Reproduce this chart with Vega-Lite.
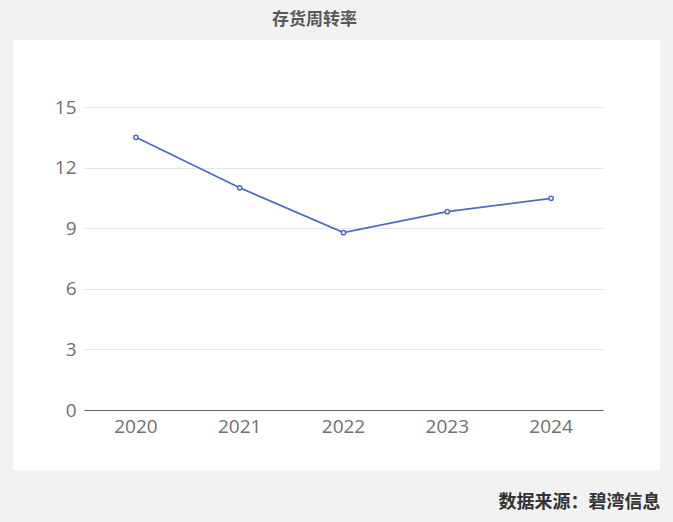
{
  "$schema": "https://vega.github.io/schema/vega-lite/v6.json",
  "autosize": "none",
  "width": 647,
  "height": 430,
  "padding": {"left": 13, "top": 40, "right": 13, "bottom": 52},
  "background": "#f2f2f2",
  "view": {"fill": "#ffffff", "stroke": null},
  "title": {
    "text": "存货周转率",
    "font": "Noto Sans CJK SC",
    "fontSize": 17,
    "fontWeight": "bold",
    "color": "#595959",
    "anchor": "middle",
    "dx": -22,
    "offset": 11
  },
  "data": {
    "values": [
      {"year": "2020", "value": 13.5},
      {"year": "2021", "value": 11.0},
      {"year": "2022", "value": 8.78},
      {"year": "2023", "value": 9.82},
      {"year": "2024", "value": 10.48}
    ]
  },
  "mark": {
    "type": "line",
    "color": "#4f6bc2",
    "strokeWidth": 1.8,
    "point": {"filled": true, "fill": "#ffffff", "stroke": "#4f6bc2", "strokeWidth": 1.5, "size": 18}
  },
  "encoding": {
    "x": {
      "field": "year",
      "type": "ordinal",
      "scale": {"type": "band", "range": [71, 590], "paddingInner": 0, "paddingOuter": 0},
      "axis": {
        "title": "数据来源：碧湾信息",
        "titleFont": "Noto Sans CJK SC",
        "titleFontSize": 18,
        "titleFontWeight": "bold",
        "titleColor": "#333333",
        "titleAnchor": null,
        "titleAlign": "right",
        "titleX": 647,
        "titleY": 92,
        "titleBaseline": "middle",
        "offset": -60,
        "labelAngle": 0,
        "labelFont": "Open Sans",
        "labelFontSize": 19,
        "labelColor": "#707070",
        "labelPadding": 7,
        "ticks": false,
        "domainColor": "#666666",
        "domainWidth": 1,
        "grid": false
      }
    },
    "y": {
      "field": "value",
      "type": "quantitative",
      "scale": {"domain": [0, 15], "range": [370, 67], "nice": false, "zero": true},
      "axis": {
        "title": null,
        "values": [0, 3, 6, 9, 12, 15],
        "offset": -71,
        "domain": false,
        "ticks": false,
        "labelFont": "Open Sans",
        "labelFontSize": 19,
        "labelColor": "#707070",
        "labelPadding": 8,
        "gridColor": "#e6e6e6",
        "gridWidth": 1
      }
    }
  }
}
